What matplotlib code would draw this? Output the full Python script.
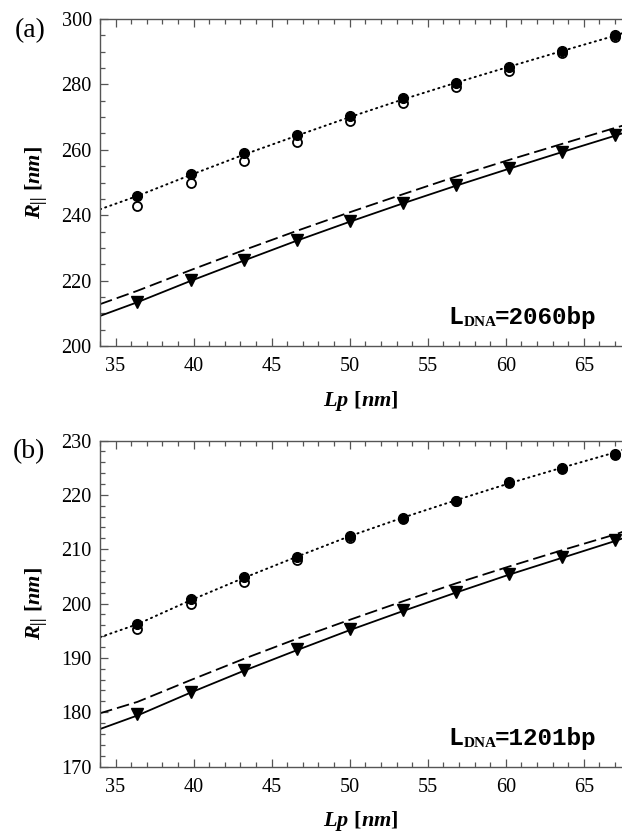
import matplotlib
matplotlib.use("Agg")
import matplotlib.pyplot as plt
from matplotlib.ticker import MultipleLocator

plt.rcParams['font.family'] = ['Liberation Serif', 'DejaVu Serif']
plt.rcParams['mathtext.fontset'] = 'custom'
plt.rcParams['mathtext.it'] = 'Liberation Serif:italic:bold'
plt.rcParams['mathtext.rm'] = 'Liberation Serif:bold'
plt.rcParams['mathtext.bf'] = 'Liberation Serif:bold'

# ---- data ----
lp = [36.4, 39.8, 43.2, 46.6, 50.0, 53.4, 56.8, 60.2, 63.6, 67.0]
line_x = [34.0, 36.4, 39.8, 43.2, 46.6, 50.0, 53.4, 56.8, 60.2, 63.6, 67.0, 67.5]

a_filled = [245.9, 252.6, 258.9, 264.5, 270.4, 275.7, 280.3, 285.2, 290.3, 295.1]
a_open = [242.8, 250.0, 256.6, 262.5, 268.8, 274.4, 279.1, 284.2, 289.7, 294.4]
a_tri = [213.6, 220.2, 226.3, 232.4, 238.3, 243.8, 249.2, 254.3, 259.4, 264.5]
a_solid = [209.2, 213.4, 219.9, 226.1, 232.2, 238.0, 243.6, 249.0, 254.2, 259.3, 264.3, 265.1]
a_dashed = [212.8, 216.9, 223.2, 229.3, 235.2, 240.9, 246.4, 251.8, 256.9, 261.8, 266.7, 267.4]
a_dotted = [241.8, 245.9, 252.3, 258.5, 264.3, 270.0, 275.4, 280.5, 285.4, 290.2, 294.9, 295.7]

b_filled = [196.2, 200.85, 204.8, 208.6, 212.5, 215.7, 218.95, 222.3, 224.9, 227.5]
b_open = [195.3, 199.9, 203.9, 208.0, 212.0, 215.5, 218.8, 222.1, 224.8, 227.3]
b_tri = [179.6, 183.8, 187.8, 191.6, 195.3, 198.8, 202.2, 205.45, 208.6, 211.6]
b_solid = [176.9, 179.4, 183.6, 187.6, 191.4, 195.1, 198.6, 202.0, 205.3, 208.4, 211.5, 212.0]
b_dashed = [179.8, 181.9, 185.9, 189.8, 193.5, 197.0, 200.4, 203.7, 206.8, 209.8, 212.7, 213.2]
b_dotted = [193.8, 196.2, 200.6, 204.7, 208.6, 212.4, 215.8, 219.0, 222.1, 225.0, 227.8, 228.3]

x_ticks = [35, 40, 45, 50, 55, 60, 65]
a_yticks = [200, 220, 240, 260, 280, 300]
b_yticks = [170, 180, 190, 200, 210, 220, 230]

panels = [
    dict(tag='(a)', label='2060bp', filled=a_filled, open=a_open, tri=a_tri,
         solid=a_solid, dashed=a_dashed, dotted=a_dotted, yticks=a_yticks,
         ylim=(200, 300), minor=5, rect=[0.1608, 0.5851, 0.8392, 0.3921]),
    dict(tag='(b)', label='1201bp', filled=b_filled, open=b_open, tri=b_tri,
         solid=b_solid, dashed=b_dashed, dotted=b_dotted, yticks=b_yticks,
         ylim=(170, 230), minor=2, rect=[0.1608, 0.0809, 0.8392, 0.3909]),
]

fig = plt.figure(figsize=(6.22, 8.34), dpi=100)
spine_col = '#555555'

for p in panels:
    ax = fig.add_axes(p['rect'])
    ax.plot(line_x, p['dotted'], color='black', lw=1.4, linestyle=(0, (0.6, 2.2)), dash_capstyle='round')
    ax.plot(line_x, p['dashed'], color='black', lw=1.3, linestyle=(0, (7, 2.8)))
    ax.plot(line_x, p['solid'], color='black', lw=1.3)
    ax.plot(lp, p['open'], linestyle='none', marker='o', ms=6.5, mfc='white', mec='black', mew=1.3)
    ax.plot(lp, p['filled'], linestyle='none', marker='o', ms=7, mfc='black', mec='black')
    ax.plot(lp, p['tri'], linestyle='none', marker='v', ms=8, mfc='black', mec='black')

    ax.set_xlim(34.0, 67.45)
    ax.set_ylim(*p['ylim'])
    ax.set_xticks(x_ticks)
    ax.set_yticks(p['yticks'])
    ax.xaxis.set_minor_locator(MultipleLocator(1))
    ax.yaxis.set_minor_locator(MultipleLocator(p['minor']))
    ax.tick_params(which='both', direction='in', top=True, right=False,
                   labelsize=14.6, color=spine_col, width=0.9)
    ax.tick_params(axis='x', which='both', pad=8)
    ax.tick_params(axis='y', which='both', pad=6)
    ax.tick_params(which='major', length=6)
    ax.tick_params(which='minor', length=3.5)
    for s in ['left', 'bottom', 'top']:
        ax.spines[s].set_color(spine_col)
        ax.spines[s].set_linewidth(1.0)
    ax.spines['right'].set_visible(False)

    ax.set_xlabel(r'$Lp\ \mathrm{[}nm\mathrm{]}$', fontsize=16, labelpad=9)
    ax.set_ylabel(r'$R_{\mathrm{||}}\ \mathrm{[}nm\mathrm{]}$', fontsize=16, labelpad=8)

    ax.text(-0.105, 0.966, p['tag'], transform=ax.transAxes, fontsize=20,
            ha='right', va='center')
    ax.text(0.667, 0.067, 'L', transform=ax.transAxes, family='Liberation Mono',
            fontweight='bold', fontsize=18, ha='left', va='baseline')
    ax.text(0.697, 0.061, 'DNA', transform=ax.transAxes, family='Liberation Serif',
            fontweight='bold', fontsize=11, ha='left', va='baseline')
    ax.text(0.757, 0.067, '=' + p['label'], transform=ax.transAxes,
            fontsize=17.5, ha='left', va='baseline', family='Liberation Mono',
            fontweight='bold')

fig.savefig('out.png', dpi=100)
